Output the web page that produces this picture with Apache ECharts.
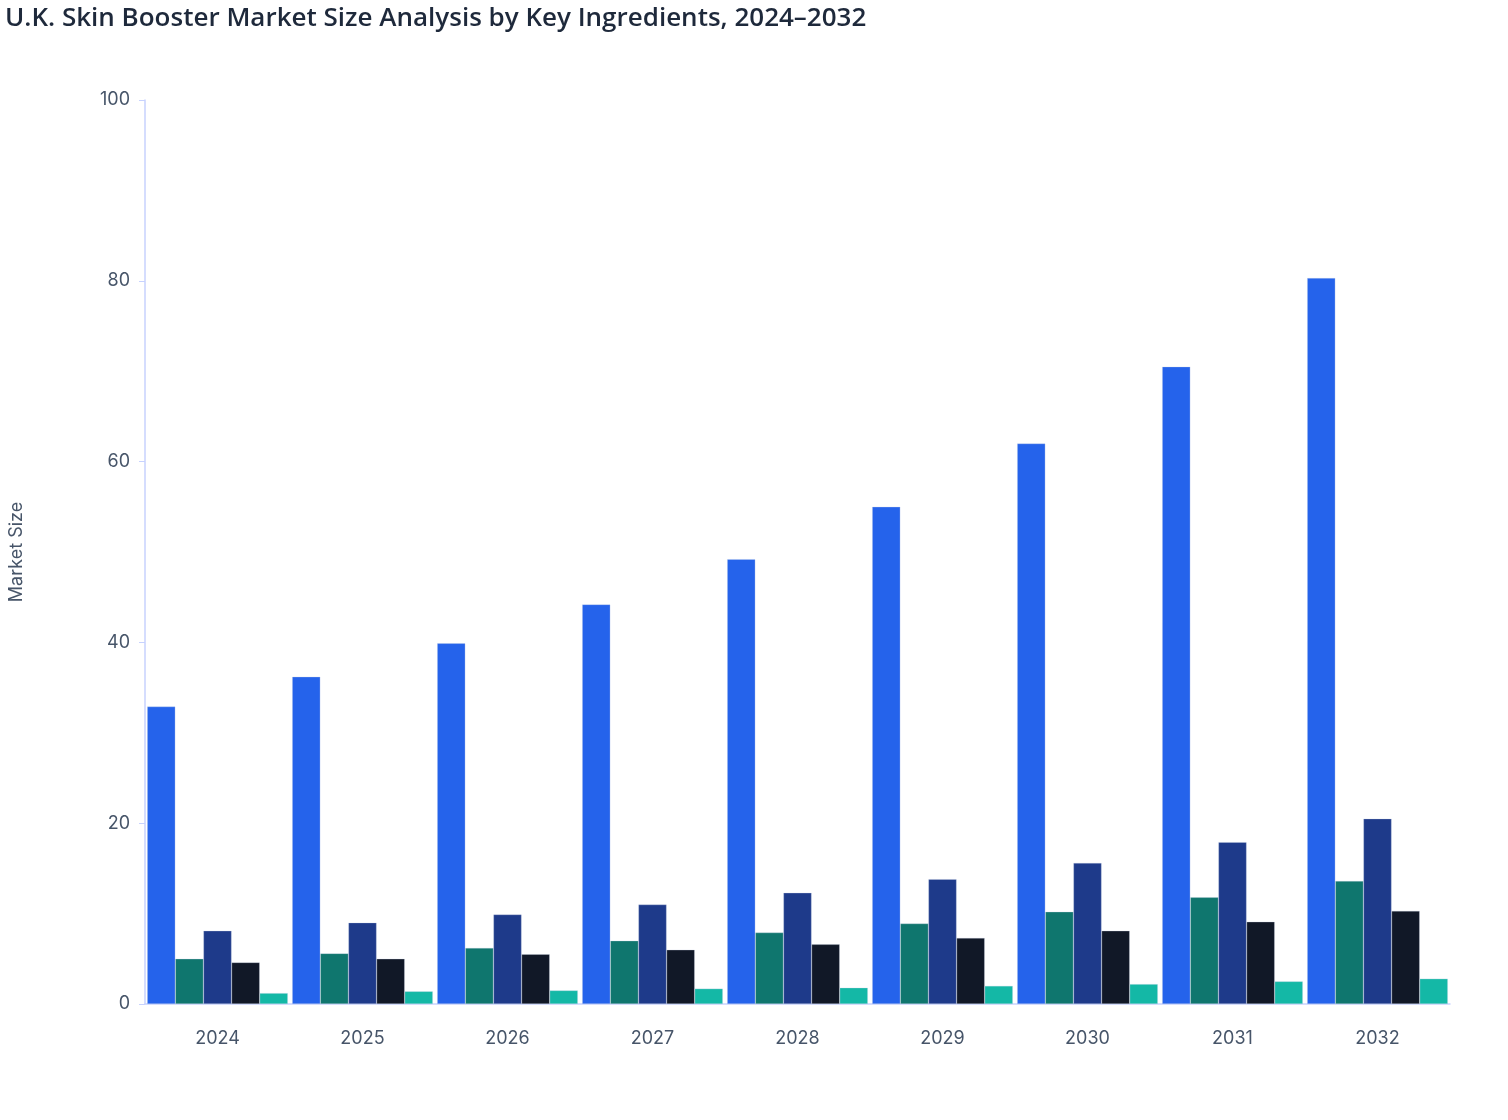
<!DOCTYPE html>
<html><head><meta charset="utf-8">
<script src="https://cdn.jsdelivr.net/npm/echarts@6/dist/echarts.min.js"></script>
<style>html,body{margin:0;padding:0;background:#fff}#c{width:1508px;height:1120px}</style>
</head><body><div id="c"></div>
<script>
const years = ['2024','2025','2026','2027','2028','2029','2030','2031','2032'];
const seriesNames = ['Hyaluronic Acid','Polynucleotides','Amino Acids','Vitamins','Others'];
const hyaluronic = [32.9, 36.2, 39.9, 44.2, 49.2, 55.0, 62.0, 70.5, 80.3];
const polynucleotides = [5.0, 5.6, 6.2, 7.0, 7.9, 8.9, 10.2, 11.8, 13.6];
const aminoAcids = [8.1, 9.0, 9.9, 11.0, 12.3, 13.8, 15.6, 17.9, 20.5];
const vitamins = [4.6, 5.0, 5.5, 6.0, 6.6, 7.3, 8.1, 9.1, 10.3];
const others = [1.2, 1.4, 1.5, 1.7, 1.8, 2.0, 2.2, 2.5, 2.8];
const yTicks = [0, 20, 40, 60, 80, 100];

const colors = ['#2563eb','#0f766e','#1e3a8a','#111827','#14b8a6'];
const values = [hyaluronic, polynucleotides, aminoAcids, vitamins, others];
const chart = echarts.init(document.getElementById('c'));
chart.setOption({
  animation:false,
  title:{text:'U.K. Skin Booster Market Size Analysis by Key Ingredients, 2024\u20132032',left:0,top:1,
    textStyle:{fontFamily:'Open Sans',fontSize:26,fontWeight:600,color:'#1e293b'}},
  grid:{left:144,right:58,top:100,bottom:116},
  xAxis:{type:'category',data:years,
    axisLine:{lineStyle:{color:'#c7d2fe',width:1.5}},
    axisTick:{alignWithLabel:true,length:6,lineStyle:{color:'#c7d2fe',width:2}},
    axisLabel:{fontFamily:'Inter',fontSize:18,color:'#475569',margin:26}},
  yAxis:{type:'value',min:yTicks[0],max:yTicks[yTicks.length-1],interval:20,
    name:'Market Size',nameLocation:'middle',nameGap:119,nameRotate:90,
    nameTextStyle:{fontFamily:'Inter',fontSize:18,color:'#475569'},
    axisLine:{show:true,lineStyle:{color:'#c7d2fe',width:1.5}},
    axisTick:{show:true,length:6,lineStyle:{color:'#c7d2fe'}},
    splitLine:{show:false},
    axisLabel:{fontFamily:'Inter',fontSize:18,color:'#475569',margin:15}},
  series: seriesNames.map((n,i)=>({name:n,type:'bar',data:values[i],barGap:'0%',barCategoryGap:'3%',
    itemStyle:{color:colors[i],borderColor:'rgba(200,210,230,0.6)',borderWidth:0.5}}))
});
</script></body></html>
